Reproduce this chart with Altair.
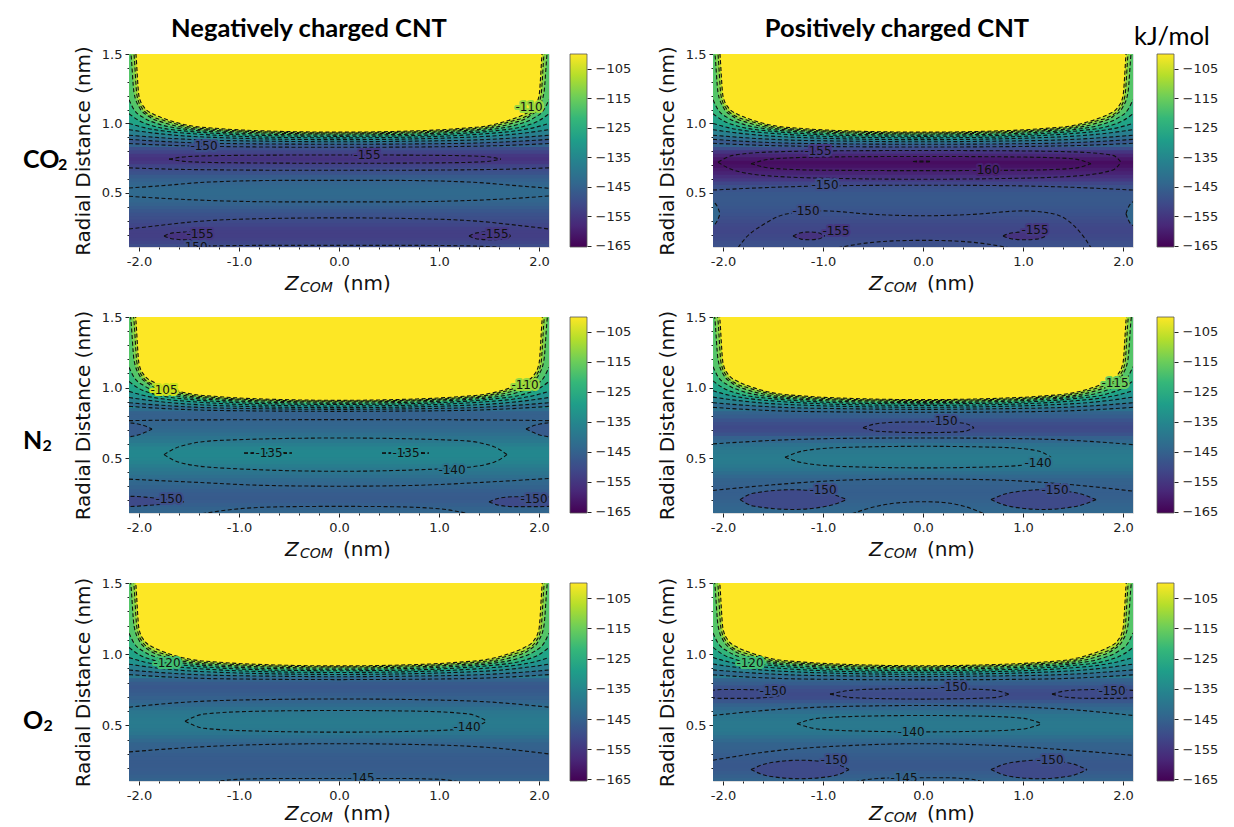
import altair as alt
import pandas as pd

# ---------------- axes / scales ----------------
Z_DOMAIN = [-2.1, 2.1]
R_DOMAIN = [0.11, 1.5]
E_DOMAIN = [-165.5, -100.0]
X_TICKS = [-2.0, -1.8, -1.6, -1.4, -1.2, -1.0, -0.8, -0.6, -0.4, -0.2, 0.0,
           0.2, 0.4, 0.6, 0.8, 1.0, 1.2, 1.4, 1.6, 1.8, 2.0]
Y_TICKS = [0.2, 0.3, 0.4, 0.5, 0.6, 0.7, 0.8, 0.9, 1.0, 1.1, 1.2, 1.3, 1.4, 1.5]
CBAR_TICKS = [-105, -115, -125, -135, -145, -155, -165]
VIRIDIS = ["#440154", "#482878", "#3e4989", "#31688e", "#26828e",
           "#1f9e89", "#35b779", "#6ece58", "#b5de2b", "#fde725"]

# ---------------- radial energy profile at Z = 0 (kJ/mol) ----------------
PROFILE_R = [0.100, 0.125, 0.150, 0.175, 0.200, 0.225, 0.250, 0.275, 0.300, 0.325,
             0.350, 0.375, 0.400, 0.425, 0.450, 0.475, 0.500, 0.525, 0.550, 0.575,
             0.600, 0.625, 0.650, 0.675, 0.700, 0.725, 0.750, 0.775, 0.800, 0.825,
             0.850, 0.875, 0.900, 0.925, 0.950]
PROFILE_A = [-148.5, -150.5, -152.0, -153.0, -153.5, -153.5, -153.0, -152.0, -151.0, -150.0,
             -149.0, -147.8, -146.5, -145.3, -144.3, -143.5, -143.0, -143.2, -143.8, -144.5,
             -145.5, -147.0, -149.0, -150.5, -152.5, -155.0, -156.0, -155.0, -152.5, -150.0,
             -145.0, -137.0, -127.0, -113.0, -100.0]
PROFILE_B = [-149.0, -149.5, -150.0, -151.0, -151.5, -152.0, -151.8, -151.2, -150.6, -150.0,
             -149.2, -148.5, -148.0, -147.5, -147.3, -147.3, -147.7, -148.5, -149.8, -152.0,
             -155.0, -157.0, -159.3, -160.8, -162.5, -163.5, -161.5, -159.0, -155.5, -150.5,
             -145.0, -137.0, -127.0, -113.0, -100.0]
PROFILE_C = [-143.5, -144.3, -145.0, -146.0, -146.8, -147.0, -146.7, -146.0, -145.0, -144.0,
             -143.0, -141.8, -140.5, -139.2, -138.0, -136.8, -135.8, -135.1, -135.2, -136.3,
             -137.8, -139.3, -140.5, -141.8, -143.0, -144.0, -144.6, -145.1, -145.6, -145.3,
             -142.0, -133.0, -118.0, -100.0, -100.0]
PROFILE_D = [-143.0, -143.6, -144.2, -144.7, -145.2, -145.8, -146.0, -146.0, -145.8, -145.4,
             -145.0, -143.6, -142.0, -140.3, -139.3, -138.6, -138.3, -138.5, -139.1, -139.8,
             -141.3, -143.6, -145.6, -148.8, -150.6, -151.0, -150.2, -148.5, -146.5, -145.0,
             -141.0, -132.0, -117.0, -100.0, -100.0]
PROFILE_E = [-144.3, -145.0, -145.8, -146.4, -146.8, -147.0, -147.0, -146.8, -146.4, -145.9,
             -145.4, -144.9, -143.5, -141.7, -140.1, -139.2, -138.8, -138.6, -138.8, -139.3,
             -139.9, -141.4, -143.0, -144.5, -145.6, -146.5, -147.2, -147.5, -147.0, -145.0,
             -139.0, -129.0, -115.0, -100.0, -100.0]
PROFILE_F = [-144.0, -144.8, -145.8, -146.8, -147.4, -147.6, -147.4, -147.0, -146.4, -145.9,
             -145.4, -144.9, -143.5, -141.8, -140.2, -139.4, -139.0, -139.1, -139.5, -140.2,
             -141.8, -143.6, -145.4, -147.8, -150.4, -150.8, -150.3, -148.8, -146.6, -144.8,
             -139.0, -129.0, -115.0, -100.0, -100.0]

# ---------------- repulsive wall contours (levels -105 ... -150) ----------------
WALL_LEVELS = [-105, -110, -115, -120, -125, -130, -135, -140, -145, -150]
# left half of each wall contour (Z) and its rise above the centre radius (nm)
WALL_Z = [
    [-2.05, -2.03, -2.00, -1.95, -1.85, -1.75, -1.50, -1.20, -0.70, 0.0],
    [-2.08, -2.05, -2.02, -1.97, -1.87, -1.75, -1.50, -1.20, -0.70, 0.0],
    [-2.11, -2.08, -2.05, -2.00, -1.90, -1.75, -1.50, -1.20, -0.70, 0.0],
    [-2.10, -2.05, -1.95, -1.80, -1.50, -1.20, -0.70, 0.0],
    [-2.10, -2.00, -1.85, -1.50, -1.20, -0.70, 0.0],
    [-2.10, -1.95, -1.75, -1.50, -1.20, -0.70, 0.0],
    [-2.10, -1.90, -1.60, -1.20, -0.70, 0.0],
    [-2.10, -1.80, -1.40, -0.70, 0.0],
    [-2.10, -1.70, -1.20, 0.0],
    [-2.10, -1.60, -1.00, 0.0],
]
WALL_RISE = [
    [0.75, 0.56, 0.26, 0.18, 0.128, 0.098, 0.048, 0.026, 0.008, 0.0],
    [0.75, 0.57, 0.27, 0.18, 0.12, 0.09, 0.044, 0.024, 0.007, 0.0],
    [0.75, 0.576, 0.30, 0.196, 0.126, 0.081, 0.041, 0.023, 0.007, 0.0],
    [0.254, 0.184, 0.124, 0.079, 0.039, 0.022, 0.006, 0.0],
    [0.163, 0.113, 0.073, 0.036, 0.020, 0.005, 0.0],
    [0.104, 0.074, 0.049, 0.032, 0.018, 0.005, 0.0],
    [0.072, 0.052, 0.030, 0.015, 0.005, 0.0],
    [0.047, 0.030, 0.014, 0.004, 0.0],
    [0.035, 0.018, 0.006, 0.0],
    [0.027, 0.012, 0.004, 0.0],
]
WALL_R_A = [0.937, 0.931, 0.924, 0.916, 0.907, 0.896, 0.883, 0.868, 0.850, 0.828]
WALL_R_B = [0.937, 0.931, 0.924, 0.916, 0.907, 0.896, 0.883, 0.868, 0.850, 0.830]
WALL_R_C = [0.909, 0.903, 0.897, 0.889, 0.880, 0.869, 0.857, 0.845, 0.831]
WALL_R_D = [0.914, 0.908, 0.901, 0.893, 0.884, 0.873, 0.860, 0.845, 0.824]
WALL_R_E = [0.918, 0.911, 0.903, 0.894, 0.884, 0.872, 0.858, 0.842, 0.822]
WALL_R_F = [0.919, 0.912, 0.904, 0.895, 0.885, 0.873, 0.859, 0.843, 0.820]

# ---------------- inner contour lines: (Z, R) ----------------
LINES_A = [
    ([-2.1, -1.5, -0.5, 0.5, 1.5, 2.1], [0.68, 0.668, 0.663, 0.663, 0.668, 0.68]),
    ([-2.1, -1.8, -1.3, -0.5, 0.5, 1.3, 1.8, 2.1], [0.535, 0.55, 0.578, 0.59, 0.59, 0.578, 0.55, 0.533]),
    ([-2.1, -1.8, -1.3, -0.5, 0.5, 1.3, 1.8, 2.1], [0.475, 0.462, 0.445, 0.435, 0.435, 0.445, 0.462, 0.478]),
    ([-2.1, -1.8, -1.4, -0.7, 0.0, 0.7, 1.4, 1.8, 2.1], [0.24, 0.265, 0.295, 0.315, 0.32, 0.315, 0.295, 0.265, 0.24]),
    ([-1.65, -1.3, -0.6, 0.0, 0.6, 1.3, 1.65], [0.105, 0.118, 0.122, 0.122, 0.122, 0.118, 0.105]),
]
LINES_B = [
    ([-2.1, -1.5, -0.8, 0.0, 0.8, 1.5, 2.1], [0.52, 0.54, 0.552, 0.555, 0.552, 0.54, 0.52]),
    ([-1.85, -1.78, -1.6, -1.35, -1.0, -0.5, 0.0, 0.5, 1.0, 1.3, 1.5, 1.62, 1.68],
     [0.105, 0.17, 0.27, 0.35, 0.37, 0.345, 0.335, 0.345, 0.37, 0.35, 0.27, 0.17, 0.105]),
    ([-0.85, -0.55, -0.25, 0.0, 0.25, 0.55, 0.86], [0.105, 0.14, 0.155, 0.158, 0.155, 0.14, 0.105]),
]
LINES_C = [
    ([-2.1, -1.5, 0.0, 1.5, 2.1], [0.765, 0.77, 0.772, 0.77, 0.765]),
    ([-2.1, -1.5, -0.7, 0.0, 0.7, 1.5, 2.1], [0.35, 0.33, 0.305, 0.30, 0.305, 0.33, 0.355]),
    ([-1.37, -1.0, -0.5, 0.0, 0.5, 1.0, 1.3], [0.105, 0.14, 0.155, 0.157, 0.155, 0.14, 0.105]),
]
LINES_D = [
    ([-2.1, -1.5, -0.7, 0.0, 0.7, 1.5, 2.1], [0.6, 0.625, 0.64, 0.642, 0.64, 0.625, 0.595]),
    ([-2.1, -1.5, -0.7, 0.0, 0.7, 1.5, 2.1], [0.27, 0.31, 0.345, 0.352, 0.345, 0.31, 0.265]),
    ([-0.71, -0.45, -0.2, 0.0, 0.2, 0.4, 0.61], [0.105, 0.16, 0.185, 0.19, 0.185, 0.16, 0.105]),
]
LINES_E = [
    ([-2.1, -1.5, -0.7, 0.0, 0.7, 1.5, 2.1], [0.628, 0.665, 0.682, 0.686, 0.682, 0.665, 0.628]),
    ([-2.1, -1.5, -0.7, 0.0, 0.7, 1.5, 2.1], [0.314, 0.345, 0.367, 0.372, 0.367, 0.345, 0.30]),
    ([-1.25, -1.0, -0.5, 0.0, 0.5, 1.0, 1.2], [0.105, 0.122, 0.128, 0.128, 0.128, 0.122, 0.105]),
]
LINES_F = [
    ([-2.1, -1.5, -0.7, 0.0, 0.7, 1.5, 2.1], [0.57, 0.61, 0.635, 0.64, 0.635, 0.61, 0.57]),
    ([-2.1, -1.5, -0.7, 0.0, 0.7, 1.5, 2.1], [0.256, 0.32, 0.36, 0.372, 0.36, 0.325, 0.29]),
    ([-0.68, -0.5, -0.2, 0.0, 0.2, 0.45, 0.6], [0.105, 0.125, 0.133, 0.133, 0.133, 0.125, 0.105]),
]

# ---------------- closed contours: (Z, upper R, lower R, fill energy or None) ----------------
LOOPS_A = [
    ([-1.7, -1.5, -1.0, 0.0, 1.0, 1.45, 1.62], [0.743, 0.762, 0.77, 0.773, 0.77, 0.762, 0.743],
     [0.743, 0.724, 0.716, 0.713, 0.716, 0.724, 0.743], None),
    ([-1.75, -1.66, -1.52, -1.38, -1.3], [0.19, 0.212, 0.218, 0.212, 0.19], [0.19, 0.168, 0.162, 0.168, 0.19], -156.0),
    ([1.3, 1.38, 1.52, 1.66, 1.72], [0.19, 0.212, 0.218, 0.212, 0.19], [0.19, 0.168, 0.162, 0.168, 0.19], -156.0),
]
LOOPS_B = [
    ([-2.05, -1.9, -1.5, -0.8, 0.0, 0.8, 1.5, 1.9, 1.98], [0.72, 0.77, 0.795, 0.803, 0.805, 0.803, 0.795, 0.77, 0.72],
     [0.72, 0.665, 0.62, 0.603, 0.598, 0.603, 0.62, 0.665, 0.72], None),
    ([-1.72, -1.5, -1.0, 0.0, 1.0, 1.5, 1.68], [0.71, 0.745, 0.758, 0.762, 0.758, 0.745, 0.71],
     [0.71, 0.676, 0.663, 0.66, 0.663, 0.676, 0.71], None),
    ([-0.1, -0.05, 0.03, 0.08], [0.726, 0.729, 0.729, 0.726], [0.726, 0.723, 0.723, 0.726], None),
    ([-1.3, -1.22, -1.14, -1.05, -0.98], [0.19, 0.213, 0.218, 0.213, 0.19], [0.19, 0.167, 0.162, 0.167, 0.19], -156.0),
    ([0.8, 0.9, 1.02, 1.14, 1.23], [0.19, 0.213, 0.218, 0.213, 0.19], [0.19, 0.167, 0.162, 0.167, 0.19], -156.0),
    ([-2.14, -2.08, -2.05, -2.03], [0.445, 0.425, 0.39, 0.35], [0.255, 0.275, 0.31, 0.35], -144.0),
    ([2.03, 2.05, 2.08, 2.14], [0.35, 0.39, 0.425, 0.445], [0.35, 0.31, 0.275, 0.255], -144.0),
]
LOOPS_C = [
    ([-1.75, -1.6, -1.2, 0.0, 1.2, 1.55, 1.68], [0.524, 0.58, 0.625, 0.642, 0.625, 0.58, 0.524],
     [0.524, 0.47, 0.43, 0.406, 0.43, 0.47, 0.524], None),
    ([-0.95, -0.85, -0.7, -0.55, -0.47], [0.535, 0.538, 0.539, 0.538, 0.535], [0.535, 0.532, 0.531, 0.532, 0.535], None),
    ([0.43, 0.52, 0.67, 0.82, 0.9], [0.535, 0.538, 0.539, 0.538, 0.535], [0.535, 0.532, 0.531, 0.532, 0.535], None),
    ([-2.15, -2.1, -2.0, -1.93, -1.87], [0.755, 0.75, 0.74, 0.725, 0.705], [0.645, 0.65, 0.665, 0.685, 0.705], -147.0),
    ([1.87, 1.93, 2.0, 2.1, 2.15], [0.705, 0.725, 0.74, 0.75, 0.755], [0.705, 0.685, 0.665, 0.65, 0.645], -147.0),
    ([-2.15, -2.05, -1.9, -1.7, -1.55], [0.228, 0.228, 0.22, 0.205, 0.19], [0.155, 0.157, 0.165, 0.175, 0.19], -151.0),
    ([1.5, 1.6, 1.75, 1.95, 2.15], [0.19, 0.215, 0.225, 0.225, 0.222], [0.19, 0.165, 0.155, 0.155, 0.158], -151.0),
]
LOOPS_D = [
    ([-0.6, -0.45, -0.2, 0.0, 0.25, 0.42, 0.51], [0.715, 0.745, 0.755, 0.756, 0.755, 0.745, 0.715],
     [0.715, 0.69, 0.682, 0.68, 0.682, 0.69, 0.715], None),
    ([-1.38, -1.2, -0.8, 0.0, 0.8, 1.15, 1.28], [0.505, 0.55, 0.575, 0.583, 0.575, 0.55, 0.505],
     [0.505, 0.465, 0.44, 0.43, 0.44, 0.465, 0.505], None),
    ([-1.83, -1.7, -1.3, -0.95, -0.76], [0.205, 0.25, 0.275, 0.25, 0.205], [0.205, 0.16, 0.135, 0.16, 0.205], -151.0),
    ([0.68, 0.85, 1.2, 1.55, 1.73], [0.205, 0.25, 0.275, 0.25, 0.205], [0.205, 0.16, 0.135, 0.16, 0.205], -151.0),
]
LOOPS_E = [
    ([-1.54, -1.35, -0.8, 0.0, 0.8, 1.3, 1.48], [0.53, 0.58, 0.6, 0.605, 0.6, 0.58, 0.53],
     [0.53, 0.48, 0.46, 0.453, 0.46, 0.48, 0.53], None),
]
LOOPS_F = [
    ([-2.12, -2.0, -1.8, -1.55, -1.38], [0.745, 0.752, 0.752, 0.745, 0.72], [0.695, 0.69, 0.69, 0.697, 0.72], -151.0),
    ([-0.93, -0.7, -0.3, 0.0, 0.3, 0.7, 0.86], [0.72, 0.748, 0.758, 0.76, 0.758, 0.748, 0.72],
     [0.72, 0.695, 0.687, 0.685, 0.687, 0.695, 0.72], None),
    ([1.29, 1.45, 1.7, 1.95, 2.12], [0.72, 0.745, 0.752, 0.752, 0.745], [0.72, 0.697, 0.69, 0.69, 0.695], -151.0),
    ([-1.26, -1.05, -0.6, 0.0, 0.6, 1.0, 1.19], [0.512, 0.55, 0.565, 0.57, 0.565, 0.55, 0.512],
     [0.512, 0.475, 0.46, 0.455, 0.46, 0.475, 0.512], None),
    ([-1.72, -1.55, -1.23, -0.9, -0.74], [0.19, 0.235, 0.256, 0.235, 0.19], [0.19, 0.145, 0.126, 0.145, 0.19], -151.0),
    ([0.68, 0.85, 1.16, 1.47, 1.64], [0.19, 0.235, 0.256, 0.235, 0.19], [0.19, 0.145, 0.126, 0.145, 0.19], -151.0),
]

# ---------------- contour labels: (text, Z, R) ----------------
LABELS_A = [("-150", -1.35, 0.835), ("-155", 0.28, 0.77), ("-155", -1.39, 0.205), ("-155", 1.56, 0.205),
            ("-110", 1.9, 1.12), ("-150", -1.45, 0.108)]
LABELS_B = [("-155", -1.05, 0.80), ("-160", 0.63, 0.663), ("-150", -0.98, 0.555), ("-150", -1.17, 0.37),
            ("-155", -0.87, 0.225), ("-155", 1.12, 0.23)]
LABELS_C = [("-105", -1.75, 0.985), ("-110", 1.86, 1.02), ("-135", -0.7, 0.535), ("-135", 0.67, 0.535),
            ("-140", 1.13, 0.418), ("-150", -1.7, 0.21), ("-150", 1.95, 0.21)]
LABELS_D = [("-150", 0.21, 0.76), ("-140", 1.15, 0.465), ("-150", -1.0, 0.276), ("-150", 1.32, 0.276),
            ("-115", 1.92, 1.03)]
LABELS_E = [("-120", -1.72, 0.94), ("-140", 1.28, 0.488), ("-145", 0.22, 0.128)]
LABELS_F = [("-120", -1.73, 0.937), ("-150", -1.5, 0.744), ("-150", 0.31, 0.768), ("-150", 1.89, 0.744),
            ("-140", -0.12, 0.455), ("-150", -0.89, 0.256), ("-150", 1.27, 0.256), ("-145", -0.19, 0.133)]

PANELS = [
    dict(profile=PROFILE_A, walls=WALL_R_A, lines=LINES_A, loops=LOOPS_A, labels=LABELS_A, row=0, col=0),
    dict(profile=PROFILE_B, walls=WALL_R_B, lines=LINES_B, loops=LOOPS_B, labels=LABELS_B, row=0, col=1),
    dict(profile=PROFILE_C, walls=WALL_R_C, lines=LINES_C, loops=LOOPS_C, labels=LABELS_C, row=1, col=0),
    dict(profile=PROFILE_D, walls=WALL_R_D, lines=LINES_D, loops=LOOPS_D, labels=LABELS_D, row=1, col=1),
    dict(profile=PROFILE_E, walls=WALL_R_E, lines=LINES_E, loops=LOOPS_E, labels=LABELS_E, row=2, col=0),
    dict(profile=PROFILE_F, walls=WALL_R_F, lines=LINES_F, loops=LOOPS_F, labels=LABELS_F, row=2, col=1),
]
ROW_NAMES = [("CO", 35.0), ("N", 19.5), ("O", 20.5)]
COL_TITLES = ["Negatively charged CNT", "Positively charged CNT"]

# ---------------- layout (pixels) ----------------
W = 420
ROW_H = [193, 196, 198]
ROW_LABEL_Y = [106, 124, 138]
XTITLE_DY = [37, 37, 33]
CBAR_GAP = [21, 24]
HALF = 0.019

XS = alt.Scale(domain=Z_DOMAIN, nice=False, zero=False)
YS = alt.Scale(domain=R_DOMAIN, nice=False, zero=False)
CS = alt.Scale(domain=E_DOMAIN, scheme="viridis", clamp=True)
X_MAJOR = "abs(datum.value - round(datum.value)) < 0.001"
Y_MAJOR = "abs(datum.value*2 - round(datum.value*2)) < 0.001"
XAX = alt.Axis(values=X_TICKS, title=None, grid=False, domain=False, labelOverlap=False, labelFlush=False,
               labelExpr=X_MAJOR + " ? replace(format(datum.value, '.1f'), '\u2212', '-') : ''",
               tickSize={"condition": {"test": X_MAJOR, "value": 4}, "value": 2},
               labelFont="DejaVu Sans", labelFontSize=13, labelColor="#222", tickColor="#222", labelPadding=4)
YAX = alt.Axis(values=Y_TICKS, title="Radial Distance (nm)", grid=False, domain=False, labelOverlap=False,
               labelFlush=False,
               labelExpr=Y_MAJOR + " ? format(datum.value, '.1f') : ''",
               tickSize={"condition": {"test": Y_MAJOR, "value": 4}, "value": 2},
               labelFont="DejaVu Sans", labelFontSize=13, labelColor="#222", tickColor="#222", labelPadding=3,
               titleFont="DejaVu Sans", titleFontSize=20, titleFontWeight="normal", titleColor="#111",
               titlePadding=8)
GRADIENT = alt.LinearGradient(gradient="linear", x1=0, x2=0, y1=1, y2=0,
                              stops=[alt.GradientStop(offset=i / (len(VIRIDIS) - 1), color=c)
                                     for i, c in enumerate(VIRIDIS)])


def text_layer(s, x, y, **kw):
    return alt.Chart(pd.DataFrame({"t": [s]})).mark_text(**kw).encode(
        text="t:N", x=alt.value(x), y=alt.value(y))


def build_panel(p):
    h = ROW_H[p["row"]]
    color = alt.Color("v:Q", scale=CS, legend=None)
    X = lambda f: alt.X(f, scale=XS, axis=XAX)
    Y = lambda f: alt.Y(f, scale=YS, axis=YAX)
    layers = []

    # colour field: radial profile
    stripes = pd.DataFrame({
        "zlo": Z_DOMAIN[0], "zhi": Z_DOMAIN[1],
        "rlo": [r - HALF for r in PROFILE_R], "rhi": [r + HALF for r in PROFILE_R],
        "v": p["profile"]})
    layers.append(alt.Chart(stripes).mark_rect(clip=True, strokeWidth=0).encode(
        x=X("zlo:Q"), x2="zhi:Q", y=Y("rlo:Q"), y2="rhi:Q", color=color))

    # wall bands, from the lowest level (largest region) to the highest
    line_rows = []
    walls = p["walls"]
    for k in reversed(range(len(walls))):
        zs = WALL_Z[k]
        rs = WALL_RISE[k]
        fz = zs + [-z for z in reversed(zs[:-1])]
        fr = rs + list(reversed(rs[:-1]))
        level = WALL_LEVELS[k]
        v = E_DOMAIN[1] if k == 0 else level + 2.5
        df = pd.DataFrame({"z": fz, "r": [walls[k] + d for d in fr], "top": R_DOMAIN[1], "v": v})
        layers.append(alt.Chart(df).mark_area(clip=True, interpolate="monotone").encode(
            x=X("z:Q"), y=Y("r:Q"), y2="top:Q", color=color))
        for z, r in zip(df["z"], df["r"]):
            line_rows.append({"id": f"w{k}", "z": z, "r": r})

    # closed contours (fills)
    fill_rows = []
    for i, (zs, top, bot, v) in enumerate(p["loops"]):
        for z, a, b in zip(zs, top, bot):
            line_rows.append({"id": f"l{i}t", "z": z, "r": a})
            line_rows.append({"id": f"l{i}b", "z": z, "r": b})
            if v is not None:
                fill_rows.append({"id": f"f{i}", "z": z, "top": a, "bot": b, "v": v})
    if fill_rows:
        layers.append(alt.Chart(pd.DataFrame(fill_rows)).mark_area(clip=True, interpolate="monotone").encode(
            x=X("z:Q"), y=Y("top:Q"), y2="bot:Q", color=color, detail="id:N"))

    for i, (zs, rs) in enumerate(p["lines"]):
        for z, r in zip(zs, rs):
            line_rows.append({"id": f"o{i}", "z": z, "r": r})

    layers.append(alt.Chart(pd.DataFrame(line_rows)).mark_line(
        clip=True, interpolate="monotone", strokeDash=[4, 2.5], strokeWidth=1.1, color="#111").encode(
        x=X("z:Q"), y=Y("r:Q"), detail="id:N"))

    # contour labels with a halo in the colour of their own level (breaks the dashed line)
    lab = pd.DataFrame(p["labels"], columns=["t", "z", "r"])
    lab["v"] = [float(t) for t in lab["t"]]
    layers.append(alt.Chart(lab).mark_text(clip=True, font="DejaVu Sans", fontSize=12, strokeWidth=4,
                                           strokeJoin="round").encode(
        x=X("z:Q"), y=Y("r:Q"), text="t:N", color=color,
        stroke=alt.Stroke("v:Q", scale=CS, legend=None)))
    layers.append(alt.Chart(lab).mark_text(clip=True, font="DejaVu Sans", fontSize=12, color="#111").encode(
        x=X("z:Q"), y=Y("r:Q"), text="t:N"))

    # x axis title  Z_COM (nm)
    ty = h + XTITLE_DY[p["row"]]
    layers.append(text_layer("Z", W / 2 - 54, ty, align="left", font="DejaVu Sans", fontSize=20,
                             fontStyle="italic", color="#111"))
    layers.append(text_layer("COM", W / 2 - 39, ty + 4, align="left", font="DejaVu Sans", fontSize=14,
                             fontStyle="italic", color="#111"))
    layers.append(text_layer("(nm)", W / 2 + 4, ty, align="left", font="DejaVu Sans", fontSize=20,
                             color="#111"))

    if p["col"] == 0:
        name, dx = ROW_NAMES[p["row"]]
        ly = ROW_LABEL_Y[p["row"]]
        layers.append(text_layer(name, -106, ly, align="left", font="Lato", fontSize=25,
                                 fontWeight="bold", color="#000"))
        layers.append(text_layer("2", -106 + dx, ly + 5, align="left", font="Lato", fontSize=16,
                                 fontWeight="bold", color="#000"))
    if p["row"] == 0:
        cx = 180 if p["col"] == 0 else 184
        layers.append(text_layer(COL_TITLES[p["col"]], cx, -25, align="center", font="Lato", fontSize=25.5,
                                 fontWeight="bold", color="#000"))
        if p["col"] == 1:
            layers.append(text_layer("kJ/mol", W + 39, -17, align="center", font="Lato", fontSize=25.5,
                                     color="#000"))

    gap = CBAR_GAP[p["col"]]
    cbar = alt.Chart(pd.DataFrame({"lo": [E_DOMAIN[0]], "hi": [E_DOMAIN[1]]})).mark_rect(
        color=GRADIENT, stroke="#555", strokeWidth=0.8).encode(
        x=alt.value(W + gap), x2=alt.value(W + gap + 17),
        y=alt.Y("lo:Q", scale=alt.Scale(domain=E_DOMAIN, nice=False, zero=False),
                axis=alt.Axis(orient="right", offset=gap + 17, values=CBAR_TICKS, title=None, grid=False,
                              domain=False, tickSize=4, tickColor="#222", labelFont="DejaVu Sans",
                              labelFontSize=13, labelColor="#222", labelPadding=4, labelOverlap=False)),
        y2="hi:Q")

    return alt.layer(alt.layer(*layers), cbar).resolve_scale(y="independent").properties(width=W, height=h)


chart = alt.concat(*[build_panel(p) for p in PANELS], columns=2,
                   spacing={"row": 70, "column": 164}, bounds="flush", align="each").resolve_scale(
    x="independent", y="independent").properties(
    padding={"left": 22, "top": 16, "right": 0, "bottom": 0}).configure_view(
    stroke="#333", strokeWidth=1).configure(font="DejaVu Sans", background="white")

chart.save("out.html", embed_options={"renderer": "svg", "actions": False})
